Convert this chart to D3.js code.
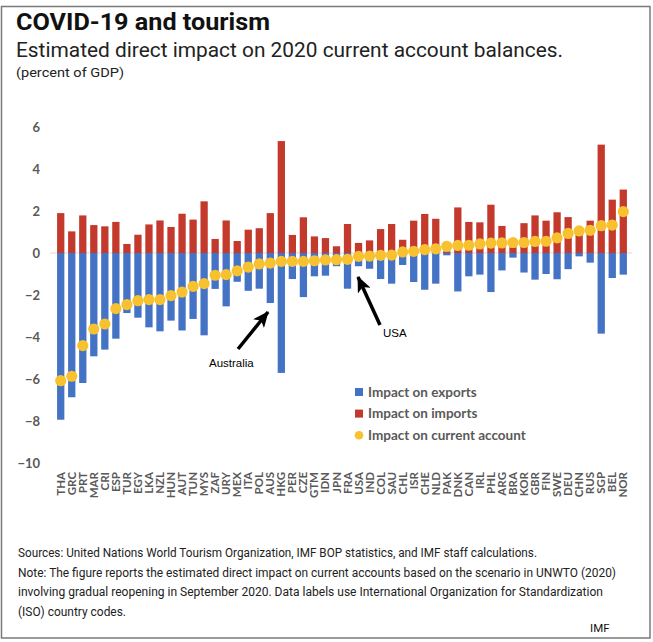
<!DOCTYPE html>
<html><head><meta charset="utf-8">
<script src="https://cdn.jsdelivr.net/npm/d3@7"></script>
<style>body{margin:0;background:#fff}svg{display:block}</style>
</head><body>
<script>
const categories = ["THA","GRC","PRT","MAR","CRI","ESP","TUR","EGY","LKA","NZL","HUN","AUT","TUN","MYS","ZAF","URY","MEX","ITA","POL","AUS","HKG","PER","CZE","GTM","IDN","JPN","FRA","USA","IND","COL","SAU","CHL","ISR","CHE","NLD","PAK","DNK","CAN","IRL","PHL","ARG","BRA","KOR","GBR","FIN","SWE","DEU","CHN","RUS","SGP","BEL","NOR"];
const exportsImpact = [-7.94,-6.87,-6.19,-4.92,-4.6,-4.08,-2.86,-3.08,-3.54,-3.73,-3.22,-3.69,-3.14,-3.92,-1.71,-2.54,-1.37,-1.8,-1.7,-2.38,-5.71,-1.24,-2.1,-1.11,-1.08,-0.63,-1.7,-0.63,-0.75,-1.24,-1.46,-0.57,-1.38,-1.75,-1.46,-0.11,-1.83,-1.11,-1.03,-1.86,-0.83,-0.22,-0.93,-1.27,-1.0,-1.25,-0.77,-0.16,-0.46,-3.84,-1.19,-1.03];
const importsImpact = [1.9,1.03,1.79,1.33,1.27,1.48,0.43,0.87,1.36,1.55,1.24,1.87,1.59,2.46,0.67,1.55,0.57,1.11,1.18,1.9,5.33,0.86,1.7,0.79,0.71,0.32,1.38,0.48,0.6,1.14,1.38,0.63,1.54,1.86,1.63,0.08,2.17,1.48,1.46,2.3,1.29,0.27,1.42,1.79,1.54,1.94,1.71,1.2,1.54,5.16,2.54,3.02];
const currentAccount = [-6.08,-5.87,-4.41,-3.62,-3.38,-2.65,-2.46,-2.27,-2.22,-2.22,-2.03,-1.86,-1.59,-1.46,-1.06,-1.03,-0.85,-0.67,-0.52,-0.48,-0.4,-0.4,-0.4,-0.37,-0.33,-0.32,-0.3,-0.16,-0.15,-0.11,-0.1,0.05,0.08,0.16,0.2,0.32,0.36,0.37,0.43,0.47,0.48,0.5,0.5,0.55,0.56,0.72,0.93,1.05,1.08,1.3,1.33,1.97];
const yTicks = [6,4,2,0,-2,-4,-6,-8,-10];
const legendLabels = ["Impact on exports","Impact on imports","Impact on current account"];
const footerLines = [
 "Sources: United Nations World Tourism Organization, IMF BOP statistics, and IMF staff calculations.",
 "Note: The figure reports the estimated direct impact on current accounts based on the scenario in UNWTO (2020)",
 "involving gradual reopening in September 2020. Data labels use International Organization for Standardization",
 "(ISO) country codes."
];

const W = 653, H = 642;
const BLUE = "#4472C4", RED = "#C3392B", GOLD = "#F8C12F", GRAY = "#595959";
const svg = d3.select("body").append("svg").attr("width", W).attr("height", H);
svg.append("rect").attr("width", W).attr("height", H).attr("fill", "#fff");
svg.append("rect").attr("x", 1.5).attr("y", 6.5).attr("width", 648.5).attr("height", 631.5)
  .attr("fill", "none").attr("stroke", "#7a7a7a").attr("stroke-width", 1.5);

function fitText(sel, len) { sel.attr("textLength", len).attr("lengthAdjust", "spacingAndGlyphs"); return sel; }

fitText(svg.append("text").attr("x", 16).attr("y", 30).attr("font-family", "Roboto").attr("font-weight", 700)
  .attr("font-size", 23).attr("fill", "#111").text("COVID-19 and tourism"), 254);
fitText(svg.append("text").attr("x", 16).attr("y", 57).attr("font-family", "Roboto")
  .attr("font-size", 20).attr("fill", "#222").text("Estimated direct impact on 2020 current account balances."), 547);
fitText(svg.append("text").attr("x", 16).attr("y", 77).attr("font-family", "Roboto")
  .attr("font-size", 13).attr("fill", "#222").text("(percent of GDP)"), 108);

const x = d3.scaleBand().domain(categories).range([55.2, 628.8]).paddingInner(0.34).paddingOuter(0.17);
const y = d3.scaleLinear().domain([-10, 6]).range([463, 127]);

// y tick labels
const yAxis = d3.axisLeft(y).tickValues(yTicks).tickSize(0).tickPadding(0).tickFormat(d3.format("d"));
const gy = svg.append("g").attr("transform", "translate(40,0)").call(yAxis);
gy.select(".domain").remove();
gy.selectAll("text").attr("font-family", "Lato").attr("font-weight", 700).attr("font-size", 13).attr("fill", GRAY);

// x labels
const xAxis = d3.axisBottom(x).tickSize(0).tickPadding(0);
const gx = svg.append("g").attr("transform", "translate(0,471)").call(xAxis);
gx.select(".domain").remove();
gx.selectAll("text").attr("font-family", "Lato").attr("font-weight", 700).attr("font-size", 11.5).attr("fill", GRAY)
  .attr("transform", "rotate(-90)").attr("text-anchor", "end").attr("dy", "0.35em").attr("x", -1).attr("y", 0);

// zero line
svg.append("line").attr("x1", 50).attr("x2", 632).attr("y1", y(0)).attr("y2", y(0))
  .attr("stroke", "#e3d6d6").attr("stroke-width", 1);

const bw = x.bandwidth();
svg.append("g").selectAll("rect").data(categories).join("rect")
  .attr("x", d => x(d)).attr("width", bw)
  .attr("y", (d, i) => y(importsImpact[i])).attr("height", (d, i) => y(0) - y(importsImpact[i]))
  .attr("fill", RED);
svg.append("g").selectAll("rect").data(categories).join("rect")
  .attr("x", d => x(d)).attr("width", bw)
  .attr("y", y(0)).attr("height", (d, i) => y(exportsImpact[i]) - y(0))
  .attr("fill", BLUE);
svg.append("g").selectAll("circle").data(categories).join("circle")
  .attr("cx", d => x(d) + bw / 2).attr("cy", (d, i) => y(currentAccount[i])).attr("r", 5.6)
  .attr("fill", GOLD);

// annotations
const defs = svg.append("defs");
defs.append("marker").attr("id", "ah").attr("viewBox", "0 0 16 14").attr("refX", 15).attr("refY", 7)
  .attr("markerUnits", "userSpaceOnUse").attr("markerWidth", 16).attr("markerHeight", 14).attr("orient", "auto")
  .append("path").attr("d", "M0,0 L16,7 L0,14 L4,7 z").attr("fill", "#000");
function arrow(x1, y1, x2, y2) {
  svg.append("line").attr("x1", x1).attr("y1", y1).attr("x2", x2).attr("y2", y2)
    .attr("stroke", "#000").attr("stroke-width", 3.5).attr("marker-end", "url(#ah)");
}
arrow(238, 349, 268, 312);
arrow(380, 325, 358, 277);
svg.append("text").attr("x", 209).attr("y", 367).attr("font-family", "Liberation Sans").attr("font-size", 11.5)
  .attr("fill", "#000").text("Australia");
svg.append("text").attr("x", 383).attr("y", 337).attr("font-family", "Liberation Sans").attr("font-size", 11.5)
  .attr("fill", "#000").text("USA");

// legend
const colors = [BLUE, RED, GOLD];
const lg = svg.append("g");
legendLabels.forEach((t, i) => {
  const cy = 392 + i * 21.6;
  if (i < 2) lg.append("rect").attr("x", 355).attr("y", cy - 4).attr("width", 8).attr("height", 8).attr("fill", colors[i]);
  else lg.append("circle").attr("cx", 359).attr("cy", cy).attr("r", 4.3).attr("fill", colors[i]);
  lg.append("text").attr("x", 368).attr("y", cy).attr("dy", "0.36em").attr("font-family", "Lato").attr("font-weight", 700)
    .attr("font-size", 13.5).attr("fill", GRAY).text(t);
});

// footer
const footWidths = [519, 598, 585, 108];
footerLines.forEach((t, i) => {
  fitText(svg.append("text").attr("x", 18).attr("y", 557 + i * 19.7).attr("font-family", "Roboto")
    .attr("font-size", 12.5).attr("fill", "#222").text(t), footWidths[i]);
});
svg.append("text").attr("x", 590).attr("y", 632).attr("font-family", "Roboto").attr("font-size", 11.5)
  .attr("fill", "#111").text("IMF");
</script>
</body></html>
